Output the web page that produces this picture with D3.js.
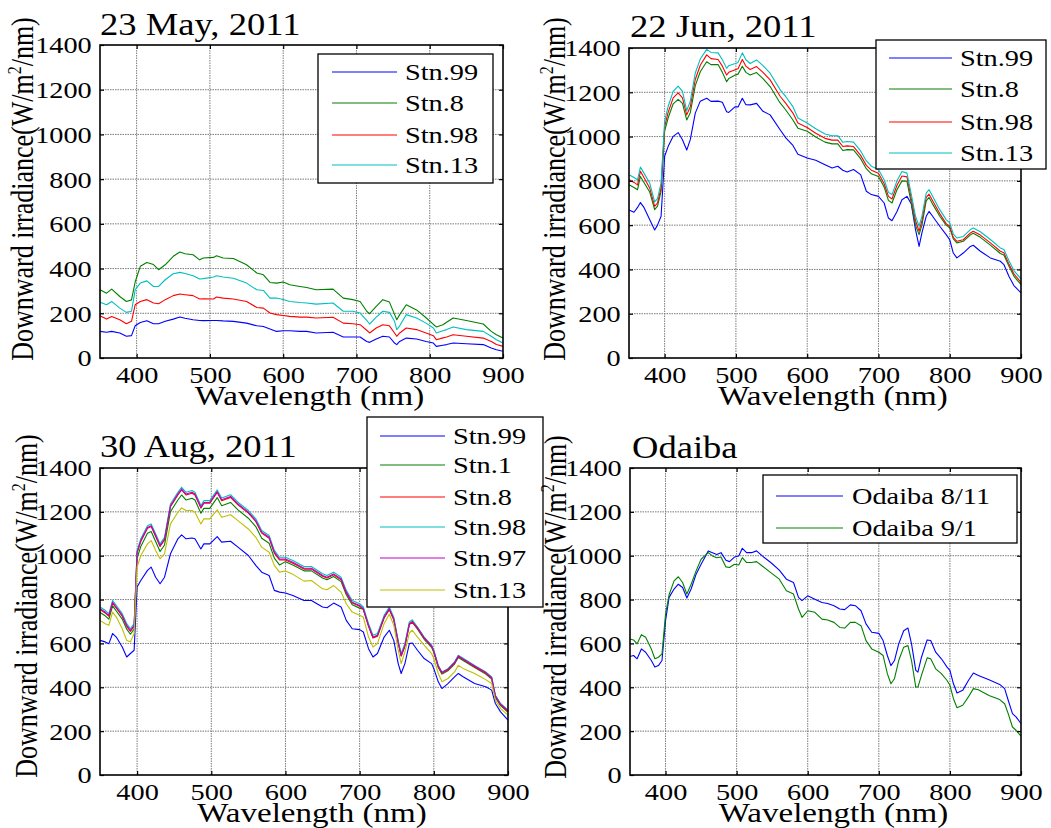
<!DOCTYPE html>
<html><head><meta charset="utf-8">
<script src="https://cdn.jsdelivr.net/npm/d3@7"></script>
<style>body{margin:0;background:#fff}svg{display:block}</style>
</head><body>
<svg id="chart" width="1051" height="828"></svg>
<script>
// ---------------- DATA ----------------
const xTicks = [400, 500, 600, 700, 800, 900];
const yTicks = [0, 200, 400, 600, 800, 1000, 1200, 1400];
const xDomain = [350, 900];
const yDomain = [0, 1400];

// 23 May, 2011
const wlMay = [350,359,366,377,386,393,398,405,414,423,430,439,450,459,466,477,486,491,505,509,518,532,550,564,573,582,591,600,609,623,632,645,668,682,695,705,714,718,727,736,745,752,755,759,768,782,795,805,809,818,823,832,850,873,884,891,900];
const may_stn99 = [119,115,119,112,97,100,144,159,167,153,153,164,174,183,178,171,168,167,168,168,166,164,156,144,141,130,119,122,122,119,119,112,115,94,94,94,74,70,85,97,94,67,60,74,89,85,74,67,52,57,60,67,64,60,45,37,30];
const may_stn8  = [305,290,308,275,253,260,340,410,427,418,395,417,455,474,466,462,439,447,450,457,447,445,417,380,372,338,335,340,328,320,315,305,308,268,261,253,209,198,231,261,250,195,171,194,238,215,180,150,139,149,160,179,168,152,119,104,89];
const may_stn98 = [189,174,186,171,153,164,238,253,261,246,243,261,279,286,283,279,264,265,264,273,268,264,253,226,223,201,194,190,186,183,183,179,182,156,153,149,124,112,134,149,144,112,97,112,134,127,112,100,82,90,94,104,97,89,74,60,52];
const may_stn13 = [249,238,253,223,204,209,305,335,345,320,320,350,377,383,378,368,353,355,362,368,362,357,335,305,302,268,268,262,253,248,246,241,246,209,209,201,168,152,183,209,204,164,127,144,194,179,156,134,112,122,127,139,127,119,97,82,67];

// 22 Jun, 2011
const wlJun = [350,357,362,366,371,379,386,390,395,400,405,412,419,425,431,436,443,450,459,465,475,481,487,490,499,503,509,514,520,529,538,548,562,570,580,587,600,612,625,635,643,650,656,665,675,683,690,700,708,714,719,726,733,740,746,752,757,761,767,771,776,786,795,800,805,810,819,829,833,843,857,871,876,883,890,900];
const jun_stn99 = [668,658,680,702,680,625,578,600,640,911,956,1001,1018,986,939,986,1106,1160,1173,1159,1160,1155,1112,1109,1135,1134,1173,1144,1143,1150,1114,1098,1031,994,960,920,903,893,873,858,866,848,840,851,828,753,738,730,700,632,620,662,715,730,697,580,504,565,640,662,640,595,557,534,474,452,474,504,509,482,452,437,422,369,327,294];
const jun_stn8  = [782,770,760,820,793,750,670,686,752,1025,1085,1148,1168,1150,1075,1108,1230,1293,1338,1325,1325,1290,1248,1262,1278,1282,1318,1290,1278,1289,1262,1226,1152,1120,1075,1038,1024,998,975,967,967,937,941,940,900,855,832,820,772,712,700,760,800,798,700,600,557,600,710,725,695,640,600,588,538,520,527,556,563,545,510,472,465,415,370,331];
const jun_stn98 = [806,793,782,843,815,768,685,700,768,1045,1110,1175,1197,1175,1098,1135,1258,1322,1369,1352,1348,1318,1278,1290,1302,1306,1348,1318,1303,1316,1290,1256,1182,1150,1106,1061,1041,1015,992,984,984,955,958,955,915,870,848,834,787,730,718,780,822,818,722,620,573,620,725,740,710,652,607,595,545,527,534,565,572,555,520,482,475,425,380,342];
const jun_stn13 = [828,815,805,862,835,790,705,720,790,1070,1137,1204,1228,1204,1117,1160,1287,1350,1394,1380,1378,1347,1308,1320,1330,1335,1378,1347,1330,1346,1320,1286,1212,1180,1135,1084,1061,1035,1012,1004,1004,974,978,975,935,890,866,851,805,748,738,800,842,835,740,640,595,640,745,760,730,670,625,610,560,542,549,580,587,570,535,497,490,440,395,357];

// 30 Aug, 2011
const wlAug = [350,357,362,367,372,380,386,391,396,400,405,414,419,425,431,437,445,455,460,466,474,478,486,490,498,508,514,526,536,550,560,568,578,585,592,600,610,625,635,650,656,665,675,682,690,700,705,712,718,724,733,740,746,752,756,761,767,771,778,787,797,800,806,811,819,828,833,840,855,870,878,883,890,900];
const aug_stn99 = [614,607,599,645,629,584,538,554,569,857,887,933,948,902,872,902,1009,1077,1095,1077,1081,1077,1031,1054,1054,1087,1062,1066,1039,1001,956,925,910,842,834,830,819,796,796,766,763,784,766,705,667,663,652,576,538,554,629,660,614,508,463,508,599,602,569,531,508,485,425,394,417,447,463,447,417,402,387,326,288,250];
const aug_stn1  = [741,726,711,771,748,711,665,642,665,989,1042,1102,1110,1065,1019,1049,1201,1254,1277,1254,1262,1254,1194,1216,1216,1265,1228,1243,1209,1171,1133,1080,1057,989,958,973,958,931,931,898,890,905,882,822,776,761,756,680,627,635,718,756,710,604,544,589,688,698,665,619,582,559,490,460,475,506,536,521,490,460,437,354,316,286];
const aug_stn8  = [754,739,724,784,761,724,678,655,678,1012,1065,1125,1133,1088,1042,1072,1224,1277,1300,1277,1285,1277,1217,1239,1239,1288,1251,1266,1232,1194,1156,1103,1080,1012,981,981,966,939,939,906,898,913,890,830,784,769,754,678,625,633,716,754,708,602,542,587,686,696,669,623,586,563,494,464,479,510,540,525,494,464,441,358,320,290];
const aug_stn98 = [766,751,736,796,773,736,690,667,690,1024,1077,1137,1145,1100,1054,1084,1236,1289,1312,1289,1297,1289,1229,1251,1251,1300,1263,1278,1244,1206,1168,1115,1092,1024,993,993,978,951,951,918,910,925,902,842,796,781,766,690,637,645,728,766,720,614,554,599,698,708,675,629,592,569,500,470,485,516,546,531,500,470,447,364,326,296];
const aug_stn97 = [758,743,728,788,765,728,682,659,682,1016,1069,1129,1137,1092,1046,1076,1228,1281,1304,1281,1289,1281,1221,1243,1243,1292,1255,1270,1236,1198,1160,1107,1084,1016,985,985,970,943,943,910,902,917,894,834,788,773,758,682,629,637,720,758,712,606,546,591,690,700,672,626,589,566,497,467,482,513,543,528,497,467,444,361,323,293];
const aug_stn13 = [705,690,683,743,720,667,614,607,645,948,1001,1054,1069,1024,986,1009,1145,1198,1218,1206,1206,1198,1145,1168,1168,1209,1175,1187,1160,1122,1084,1039,1016,956,925,930,915,884,887,849,845,864,834,781,743,728,720,629,584,599,690,733,683,569,508,561,648,660,629,592,554,531,463,425,440,470,500,485,463,435,417,341,303,273];

// Odaiba
const wlOdaiba = [350,355,360,366,372,380,385,390,395,400,405,412,418,424,430,436,443,450,455,460,466,472,478,485,490,497,503,508,514,521,528,536,548,560,570,580,587,592,600,610,620,628,637,645,652,660,667,675,682,690,700,706,712,717,722,728,735,741,746,752,755,760,768,773,780,788,796,800,805,810,818,826,833,840,855,870,877,882,888,893,900];
const odaiba_0811 = [540,545,530,575,560,522,492,499,522,704,810,848,870,855,807,848,916,961,991,1022,1014,1006,1014,979,973,994,999,1034,1014,1014,1022,999,969,934,893,878,810,795,817,802,787,782,772,757,754,776,772,749,689,651,646,613,545,499,522,598,658,670,598,477,469,537,616,613,560,530,492,477,416,374,386,431,465,454,434,413,394,341,280,265,235];
const odaiba_0901 = [620,616,598,640,628,575,530,537,552,734,822,885,904,878,825,870,931,984,999,1014,999,991,994,949,946,961,958,991,969,969,973,953,923,893,840,825,757,719,749,742,711,707,696,673,670,696,696,681,613,575,560,545,462,416,439,522,583,590,522,401,401,454,534,530,484,462,431,409,348,307,318,356,394,389,363,344,325,280,219,204,177];

const titles = ["23 May, 2011", "22 Jun, 2011", "30 Aug, 2011", "Odaiba"];
const C = {blue:"#0000ff", green:"#008000", red:"#ff0000", cyan:"#00bfbf", magenta:"#bf00bf", olive:"#bfbf00"};

// ---------------- LAYOUT ----------------
const FONT = "'Liberation Serif','Times New Roman',Times,serif";
const SX = 1.18;
const panels = [
  { title: titles[0], wl: wlMay, box:{l:100,r:503,t:45,b:358}, titleXY:[100,35], ylab:[33,189],
    series:[{n:"Stn.99",v:may_stn99,c:C.blue},{n:"Stn.8",v:may_stn8,c:C.green},{n:"Stn.98",v:may_stn98,c:C.red},{n:"Stn.13",v:may_stn13,c:C.cyan}],
    legend:{x0:318,y0:54,x1:493,y1:183,l0:332,l1:397,tx:405,rows:[72,103,135,165]} },
  { title: titles[1], wl: wlJun, box:{l:629,r:1021,t:48,b:358}, titleXY:[630,37], ylab:[565,189],
    series:[{n:"Stn.99",v:jun_stn99,c:C.blue},{n:"Stn.8",v:jun_stn8,c:C.green},{n:"Stn.98",v:jun_stn98,c:C.red},{n:"Stn.13",v:jun_stn13,c:C.cyan}],
    legend:{x0:876,y0:40,x1:1046,y1:169,l0:889,l1:952,tx:960,rows:[58,89,122,153]} },
  { title: titles[2], wl: wlAug, box:{l:100,r:508,t:468,b:775}, titleXY:[100,457], ylab:[37,606],
    series:[{n:"Stn.99",v:aug_stn99,c:C.blue},{n:"Stn.1",v:aug_stn1,c:C.green},{n:"Stn.8",v:aug_stn8,c:C.red},{n:"Stn.98",v:aug_stn98,c:C.cyan},{n:"Stn.97",v:aug_stn97,c:C.magenta},{n:"Stn.13",v:aug_stn13,c:C.olive}],
    legend:{x0:367,y0:417,x1:543,y1:607,l0:380,l1:445,tx:453,rows:[436,465,497,527,558,590]} },
  { title: titles[3], wl: wlOdaiba, box:{l:630,r:1021,t:468,b:775}, titleXY:[632,458], ylab:[566,607],
    series:[{n:"Odaiba 8/11",v:odaiba_0811,c:C.blue},{n:"Odaiba 9/1",v:odaiba_0901,c:C.green}],
    legend:{x0:763,y0:475,x1:1017,y1:543,l0:776,l1:843,tx:852,rows:[496,528]} }
];

const svg = d3.select("#chart").style("font-family", FONT);

function stext(g, x, y, str, size, anchor) {
  return g.append("text")
    .attr("transform", `translate(${x},${y}) scale(${SX},1)`)
    .attr("font-size", size).attr("text-anchor", anchor || "start")
    .attr("fill", "#000").style("font-family", FONT).text(str);
}

const fmt = d3.format("d");

panels.forEach(p => {
  const g = svg.append("g");
  const b = p.box;
  const x = d3.scaleLinear().domain(xDomain).range([b.l, b.r]);
  const y = d3.scaleLinear().domain(yDomain).range([b.b, b.t]);

  g.append("rect").attr("x", b.l).attr("y", b.t).attr("width", b.r - b.l).attr("height", b.b - b.t).attr("fill", "#fff");

  // grid
  g.append("g").selectAll("line").data(xTicks.slice(0, -1)).join("line")
    .attr("x1", d => x(d)).attr("x2", d => x(d)).attr("y1", b.t).attr("y2", b.b)
    .attr("stroke", "#7a7a7a").attr("stroke-width", 1).attr("stroke-dasharray", "1.5,1");
  g.append("g").selectAll("line").data(yTicks.slice(1, -1)).join("line")
    .attr("y1", d => y(d)).attr("y2", d => y(d)).attr("x1", b.l).attr("x2", b.r)
    .attr("stroke", "#7a7a7a").attr("stroke-width", 1).attr("stroke-dasharray", "1.5,1");

  // series
  const line = d3.line().x((d, i) => x(p.wl[i])).y(d => y(d));
  p.series.forEach(s => {
    g.append("path").datum(s.v).attr("d", line).attr("fill", "none")
      .attr("stroke", s.c).attr("stroke-width", 1.1).attr("stroke-linejoin", "round");
  });

  // axes
  const ax = [
    g.append("g").attr("transform", `translate(0,${b.b})`).call(d3.axisBottom(x).tickValues(xTicks).tickFormat(fmt).tickSizeInner(-4).tickSizeOuter(0).tickPadding(8)),
    g.append("g").attr("transform", `translate(${b.l},0)`).call(d3.axisLeft(y).tickValues(yTicks).tickFormat(fmt).tickSizeInner(-4).tickSizeOuter(0).tickPadding(7)),
    g.append("g").attr("transform", `translate(0,${b.t})`).call(d3.axisTop(x).tickValues(xTicks).tickSizeInner(-4).tickSizeOuter(0).tickFormat("")),
    g.append("g").attr("transform", `translate(${b.r},0)`).call(d3.axisRight(y).tickValues(yTicks).tickSizeInner(-4).tickSizeOuter(0).tickFormat(""))
  ];
  ax.forEach(a => {
    a.select(".domain").remove();
    a.selectAll(".tick line").attr("stroke", "#000").attr("stroke-width", 1.2);
    a.selectAll(".tick text").attr("font-size", 24).style("font-family", FONT).attr("fill", "#000")
      .attr("transform", `scale(${SX},1)`);
  });
  ax[1].selectAll(".tick text").attr("dy", "0.33em");

  g.append("rect").attr("x", b.l).attr("y", b.t).attr("width", b.r - b.l).attr("height", b.b - b.t)
    .attr("fill", "none").attr("stroke", "#000").attr("stroke-width", 1.6);

  // title
  stext(g, p.titleXY[0], p.titleXY[1], p.title, 31, "start");
  // x label
  stext(g, (b.l + b.r) / 2 + 8, b.b + 47, "Wavelength (nm)", 28, "middle");
  // y label
  const yl = g.append("text")
    .attr("transform", `translate(${p.ylab[0]},${p.ylab[1]}) scale(${SX},1) rotate(-90)`)
    .attr("font-size", 26).attr("text-anchor", "middle").style("font-family", FONT);
  yl.append("tspan").text("Downward irradiance(W/m");
  yl.append("tspan").attr("font-size", 16).attr("dy", -10).text("2");
  yl.append("tspan").attr("dy", 10).text("/nm)");

  // legend
  const L = p.legend;
  const lg = svg.append("g");
  lg.append("rect").attr("x", L.x0).attr("y", L.y0).attr("width", L.x1 - L.x0).attr("height", L.y1 - L.y0)
    .attr("fill", "#fff").attr("stroke", "#000").attr("stroke-width", 1.3);
  p.series.forEach((s, i) => {
    lg.append("line").attr("x1", L.l0).attr("x2", L.l1).attr("y1", L.rows[i]).attr("y2", L.rows[i])
      .attr("stroke", s.c).attr("stroke-width", 1.1);
    stext(lg, L.tx, L.rows[i] + 8, s.n, 24, "start");
  });
});
</script>
</body></html>
